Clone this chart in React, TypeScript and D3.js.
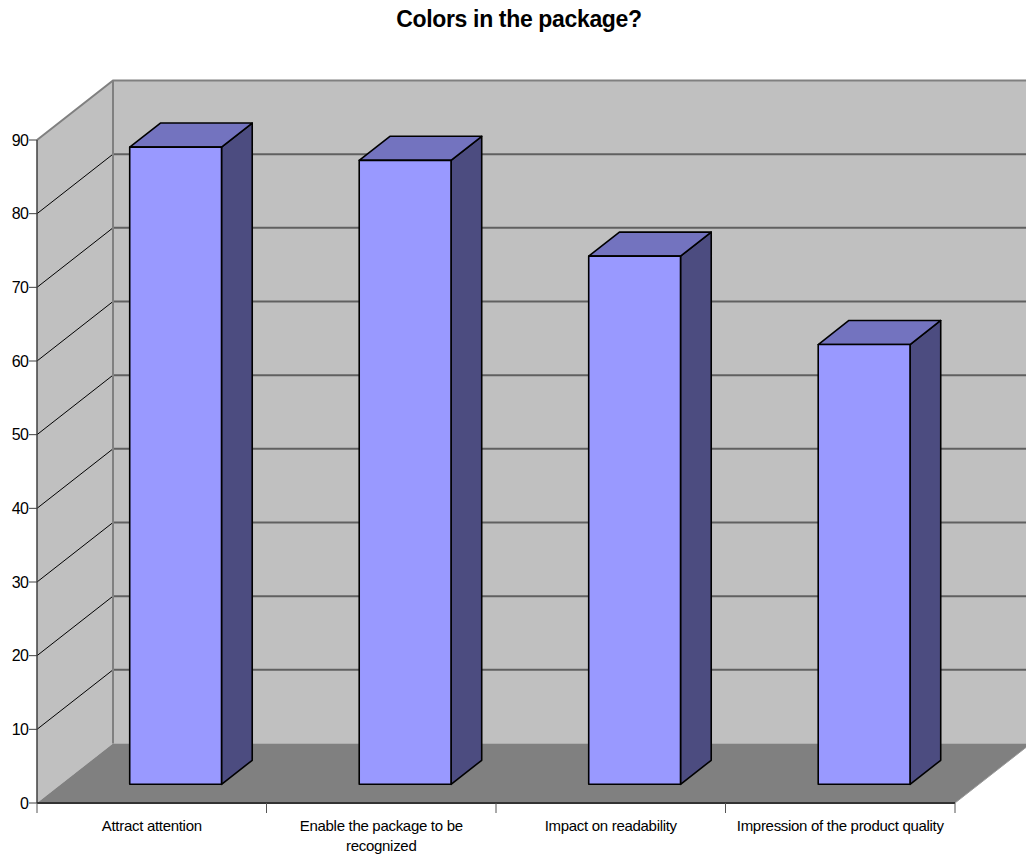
import React from "react";
import * as d3 from "d3";

const title = "Colors in the package?";
const categories = [
  ["Attract attention"],
  ["Enable the package to be", "recognized"],
  ["Impact on readability"],
  ["Impression of the product quality"],
];
const values = [86.5, 84.7, 71.7, 59.7];
const yTicks = [0, 10, 20, 30, 40, 50, 60, 70, 80, 90];

const W = 1026;
const H = 859;
const X0 = 37;
const X1 = 955;
const Y0 = 803;
const Y1 = 140;
const DX = 76;
const DY = -59.5;
const D_FRONT = 0.314;
const D_BACK = 0.718;

export default function App() {
  const x = d3
    .scaleBand<number>()
    .domain(values.map((_, i) => i))
    .range([X0, X1])
    .paddingInner(0.6)
    .paddingOuter(0.3);
  const y = d3.scaleLinear().domain([0, 90]).range([Y0, Y1]);
  const step = x.step();

  const P = (px: number, py: number, d: number) => [px + DX * d, py + DY * d];
  const pts = (arr: number[][]) => arr.map((p) => p.join(",")).join(" ");

  const backRight = W + 20;
  const backTop = y(90) + DY;
  const backBottom = y(0) + DY;

  return (
    <svg
      width={W}
      height={H}
      style={{ position: "absolute", left: 0, top: 0, background: "#fff" }}
      fontFamily="'Liberation Sans', Arial, sans-serif"
    >
      <text x={519} y={27} textAnchor="middle" fontSize={23} fontWeight="bold" letterSpacing={-0.35}>
        {title}
      </text>
      {/* back wall */}
      <polygon
        points={pts([
          [X0 + DX, backTop],
          [backRight, backTop],
          [backRight, backBottom],
          [X0 + DX, backBottom],
        ])}
        fill="#C0C0C0"
      />
      {/* left wall */}
      <polygon
        points={pts([
          [X0, y(0)],
          [X0, y(90)],
          [X0 + DX, backTop],
          [X0 + DX, backBottom],
        ])}
        fill="#C0C0C0"
      />
      {/* floor */}
      <polygon
        points={pts([
          [X0, Y0],
          [X1, Y0],
          [X1 + DX, Y0 + DY],
          [X0 + DX, Y0 + DY],
        ])}
        fill="#808080"
      />
      {/* back wall gridlines */}
      {yTicks
        .filter((t) => t > 0 && t < 90)
        .map((t) => (
          <line
            key={"bg" + t}
            x1={X0 + DX}
            x2={backRight}
            y1={y(t) + DY}
            y2={y(t) + DY}
            stroke="#606060"
            strokeWidth={2}
          />
        ))}
      {/* side wall gridlines */}
      {yTicks
        .filter((t) => t > 0 && t < 90)
        .map((t) => (
          <line
            key={"sg" + t}
            x1={X0}
            y1={y(t)}
            x2={X0 + DX}
            y2={y(t) + DY}
            stroke="#000"
            strokeWidth={1}
          />
        ))}
      {/* wall borders */}
      <polyline
        points={pts([
          [X0, y(90)],
          [X0 + DX, backTop],
          [backRight, backTop],
        ])}
        fill="none"
        stroke="#808080"
        strokeWidth={2}
      />
      <line x1={X0 + DX} y1={backTop} x2={X0 + DX} y2={backBottom} stroke="#808080" strokeWidth={2} />
      {/* floor right edge */}
      <line x1={X1} y1={Y0} x2={X1 + DX} y2={Y0 + DY} stroke="#999" strokeWidth={1} />
      {/* axes */}
      <line x1={X0} y1={Y0} x2={X0} y2={Y1} stroke="#404040" strokeWidth={1.5} />
      <line x1={X0} y1={Y0} x2={X1} y2={Y0} stroke="#333" strokeWidth={2} />
      {yTicks.map((t) => (
        <g key={"yt" + t}>
          <line x1={X0 - 8} x2={X0} y1={y(t)} y2={y(t)} stroke="#404040" strokeWidth={1} />
          <text x={X0 - 9} y={y(t) + 5.5} textAnchor="end" fontSize={16} letterSpacing={-0.8}>
            {t}
          </text>
        </g>
      ))}
      {d3.range(values.length + 1).map((i) => {
        const tx = X0 + i * step;
        return <line key={"xt" + i} x1={tx} x2={tx} y1={Y0} y2={Y0 + 10} stroke="#555" strokeWidth={1} />;
      })}
      {categories.map((lines, i) => {
        const cx = (x(i) as number) + x.bandwidth() / 2;
        return (
          <text key={"xl" + i} x={cx} y={831} textAnchor="middle" fontSize={15} letterSpacing={-0.3}>
            {lines.map((l, j) => (
              <tspan key={j} x={cx} dy={j === 0 ? 0 : 20}>
                {l}
              </tspan>
            ))}
          </text>
        );
      })}
      {/* bars */}
      {values.map((v, i) => {
        const l = x(i) as number;
        const r = l + x.bandwidth();
        const top = y(v);
        const bot = y(0);
        const fTL = P(l, top, D_FRONT);
        const fTR = P(r, top, D_FRONT);
        const fBL = P(l, bot, D_FRONT);
        const fBR = P(r, bot, D_FRONT);
        const bTL = P(l, top, D_BACK);
        const bTR = P(r, top, D_BACK);
        const bBR = P(r, bot, D_BACK);
        return (
          <g key={"bar" + i} stroke="#000" strokeWidth={1.6} strokeLinejoin="round">
            <polygon points={pts([fTR, bTR, bBR, fBR])} fill="#4C4C80" />
            <polygon points={pts([fTL, bTL, bTR, fTR])} fill="#7373BF" />
            <polygon points={pts([fTL, fTR, fBR, fBL])} fill="#9999FF" />
          </g>
        );
      })}
    </svg>
  );
}
